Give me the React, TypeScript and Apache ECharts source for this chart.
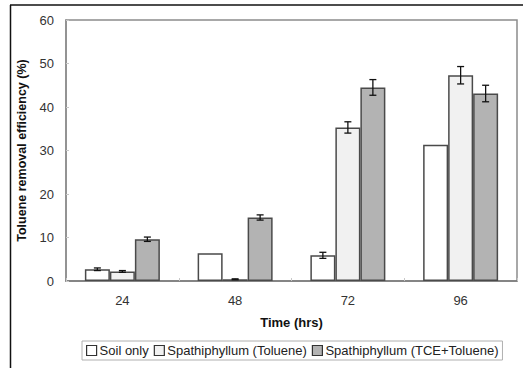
import React, { useEffect, useRef } from "react";
import * as echarts from "echarts";

const categories = ["24", "48", "72", "96"];
const seriesNames = ["Soil only", "Spathiphyllum (Toluene)", "Spathiphyllum (TCE+Toluene)"];
const soilOnly = [2.7, 6.4, 5.9, 31.3];
const spathToluene = [2.2, 0.4, 35.3, 47.3];
const spathTceToluene = [9.6, 14.6, 44.5, 43.1];
const soilErr = [0.3, 0, 0.7, 0];
const tolueneErr = [0.2, 0.1, 1.3, 2.0];
const tceErr = [0.5, 0.6, 1.8, 1.9];
const yTicks = [0, 10, 20, 30, 40, 50, 60];

const FONT = "Liberation Sans, Arial, sans-serif";
const BAR_W = 25;

export default function App() {
  const ref = useRef<HTMLDivElement>(null);
  useEffect(() => {
    if (!ref.current) return;
    const chart = echarts.init(ref.current, undefined, { renderer: "svg" });
    const values = [soilOnly, spathToluene, spathTceToluene];
    const errs = [soilErr, tolueneErr, tceErr];
    const errData: any[] = [];
    values.forEach((vals, s) => {
      vals.forEach((v, i) => {
        if (errs[s][i] > 0) errData.push([i, v, errs[s][i], s]);
      });
    });
    const fills = ["#ffffff", "#f1f1f1", "#b3b3b3"];
    chart.setOption({
      animation: false,
      textStyle: { fontFamily: FONT },
      grid: { left: 66, top: 20, right: 6, bottom: 87, show: true, borderColor: "#8c8c8c", borderWidth: 1.5, backgroundColor: "#fff" },
      legend: {
        data: seriesNames.map((n) => ({ name: n, icon: "rect" })),
        left: 82,
        top: 341,
        itemWidth: 10,
        itemHeight: 10,
        itemGap: 5,
        padding: [3, 4, 3, 4],
        borderColor: "#b0b0b0",
        borderWidth: 1,
        itemStyle: { borderColor: "#333", borderWidth: 1.2 },
        textStyle: { fontFamily: FONT, fontSize: 13, color: "#222", padding: [0, 0, 0, -2] },
      },
      xAxis: {
        type: "category",
        data: categories,
        name: "Time (hrs)",
        nameLocation: "middle",
        nameGap: 35,
        nameTextStyle: { fontFamily: FONT, fontWeight: "bold", fontSize: 13, color: "#111" },
        axisLine: { lineStyle: { color: "#7a7a7a", width: 1.5 } },
        axisTick: { show: true, inside: true, length: 3, lineStyle: { color: "#c8c8c8" } },
        axisLabel: { fontFamily: FONT, fontSize: 13, color: "#333", margin: 13 },
      },
      yAxis: {
        type: "value",
        min: 0,
        max: 60,
        interval: 10,
        name: "Toluene removal efficiency (%)",
        nameLocation: "middle",
        nameGap: 26,
        nameTextStyle: { fontFamily: FONT, fontWeight: "bold", fontSize: 12.5, color: "#111" },
        axisLine: { show: true, lineStyle: { color: "#8c8c8c", width: 1.5 } },
        axisTick: { show: true, inside: true, length: 3, lineStyle: { color: "#c8c8c8" } },
        splitLine: { show: false },
        axisLabel: {
          fontFamily: FONT,
          fontSize: 13,
          color: "#333",
          margin: 12,
          formatter: (v: number) => (yTicks.includes(v) ? String(v) : ""),
        },
      },
      series: [
        ...values.map((vals, s) => ({
          type: "bar",
          name: seriesNames[s],
          data: vals,
          barWidth: BAR_W,
          barGap: "0%",
          itemStyle: { color: fills[s], borderColor: "#4a4a4a", borderWidth: 1.5 },
        })),
        {
          type: "custom",
          name: "err",
          data: errData,
          z: 10,
          renderItem: (params: any, api: any) => {
            const idx = api.value(0);
            const v = api.value(1);
            const e = api.value(2);
            const s = api.value(3);
            const top = api.coord([idx, v + e]);
            const bot = api.coord([idx, v - e]);
            const x = top[0] + (s - 1) * BAR_W;
            const cw = 3.5;
            const st = { stroke: "#111", lineWidth: 1.3 };
            return {
              type: "group",
              children: [
                { type: "line", shape: { x1: x, y1: top[1], x2: x, y2: bot[1] }, style: st },
                { type: "line", shape: { x1: x - cw, y1: top[1], x2: x + cw, y2: top[1] }, style: st },
                { type: "line", shape: { x1: x - cw, y1: bot[1], x2: x + cw, y2: bot[1] }, style: st },
              ],
            };
          },
        },
      ],
      graphic: [
        { type: "line", shape: { x1: 10, y1: 5, x2: 523, y2: 5 }, style: { stroke: "#111", lineWidth: 1.5 } },
        { type: "line", shape: { x1: 10.5, y1: 5, x2: 10.5, y2: 368 }, style: { stroke: "#111", lineWidth: 1.5 } },
      ],
    });
    return () => chart.dispose();
  }, []);
  return (
    <div
      ref={ref}
      style={{ position: "fixed", left: 0, top: 0, width: 523, height: 368, background: "#fff" }}
    />
  );
}
